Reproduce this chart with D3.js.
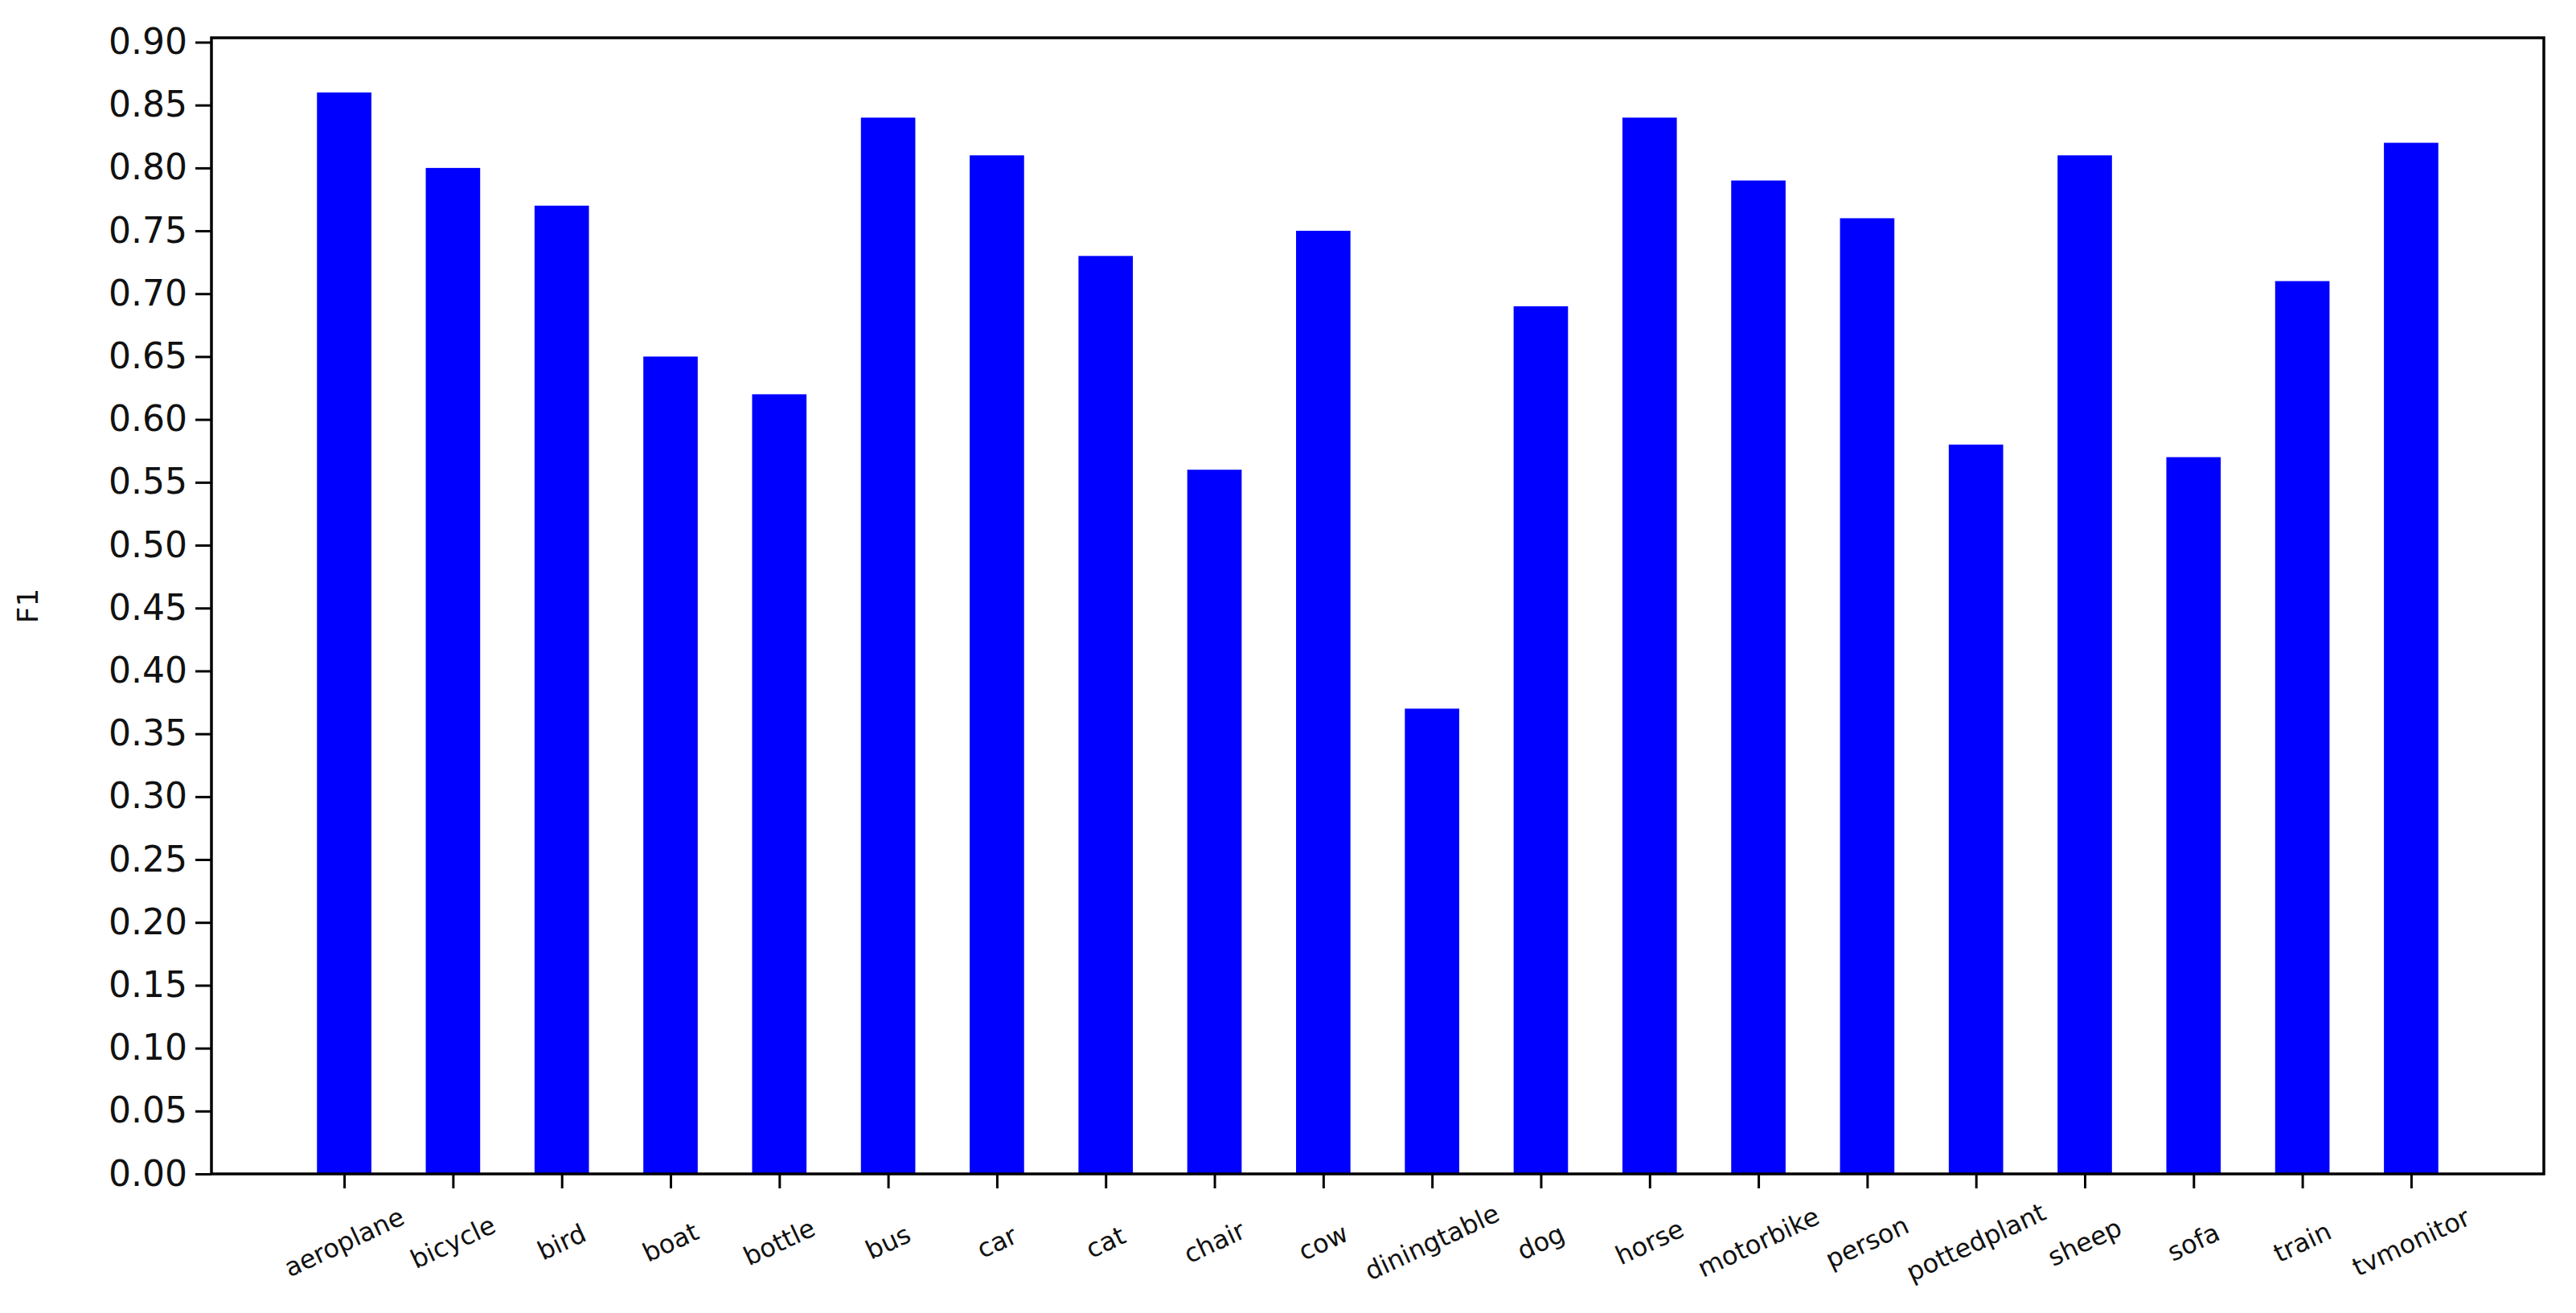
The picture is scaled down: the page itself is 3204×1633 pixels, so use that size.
<!DOCTYPE html>
<html><head><meta charset="utf-8">
<script src="https://cdn.jsdelivr.net/npm/d3@7"></script>
<style>body{margin:0;background:#fff}svg{display:block}</style>
</head><body>
<script>
const categories = ["aeroplane","bicycle","bird","boat","bottle","bus","car","cat","chair","cow","diningtable","dog","horse","motorbike","person","pottedplant","sheep","sofa","train","tvmonitor"];
const f1Values = [0.86,0.80,0.77,0.65,0.62,0.84,0.81,0.73,0.56,0.75,0.37,0.69,0.84,0.79,0.76,0.58,0.81,0.57,0.71,0.82];
const yTicks = [0,0.05,0.10,0.15,0.20,0.25,0.30,0.35,0.40,0.45,0.50,0.55,0.60,0.65,0.70,0.75,0.80,0.85,0.90];

const W=3204,H=1633, L=263,R=3164,T=47,B=1460;
const svg=d3.select("body").append("svg").attr("width",W).attr("height",H);
const x=d3.scaleLinear().domain([-1.22,categories.length-1+1.22]).range([L,R]);
const y=d3.scaleLinear().domain([0,0.9035]).range([B,T]);
const bw=(x(1)-x(0))*0.5;

svg.append("g").selectAll("rect").data(f1Values).join("rect")
  .attr("x",(d,i)=>x(i)-bw/2).attr("width",bw)
  .attr("y",d=>y(d)).attr("height",d=>B-y(d)).attr("fill","#0000ff");

const ya=svg.append("g").attr("transform",`translate(${L},0)`)
  .call(d3.axisLeft(y).tickValues(yTicks).tickFormat(d3.format(".2f")).tickSize(20).tickPadding(10));
ya.selectAll("text").attr("font-family","DejaVu Sans").attr("font-size",44).attr("fill","#111");
ya.selectAll("line").attr("stroke","#000").attr("stroke-width",3);
ya.select(".domain").remove();

const xa=svg.append("g").attr("transform",`translate(0,${B})`)
  .call(d3.axisBottom(x).tickValues(d3.range(categories.length)).tickFormat(()=> "").tickSize(18));
xa.selectAll("line").attr("stroke","#000").attr("stroke-width",3);
xa.select(".domain").remove();

svg.append("g").selectAll("text").data(categories).join("text")
  .attr("transform",(d,i)=>`translate(${x(i)},1545) rotate(-25)`)
  .attr("text-anchor","middle").attr("dominant-baseline","central")
  .attr("font-family","DejaVu Sans").attr("font-size",32).attr("fill","#111").text(d=>d);

svg.append("rect").attr("x",L).attr("y",T).attr("width",R-L).attr("height",B-T)
  .attr("fill","none").attr("stroke","#000").attr("stroke-width",3.5);

svg.append("text").attr("transform",`translate(34,${(T+B)/2}) rotate(-90)`)
  .attr("text-anchor","middle").attr("dominant-baseline","central")
  .attr("font-family","DejaVu Sans").attr("font-size",36).attr("fill","#111").text("F1");
</script>
</body></html>
